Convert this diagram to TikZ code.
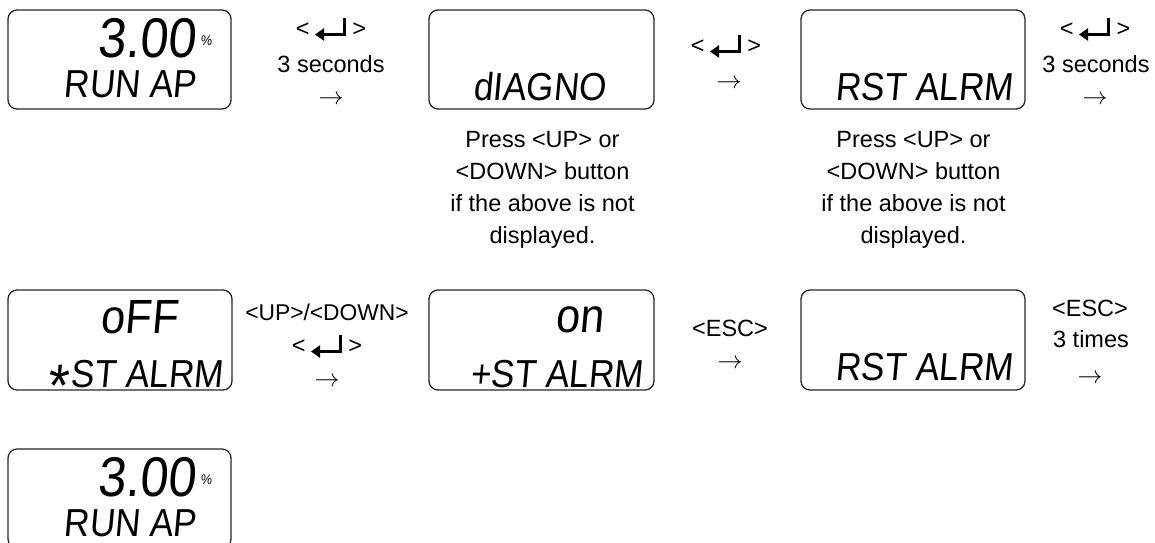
\documentclass[tikz,border=0pt]{standalone}
\usepackage{fontspec}
\setmainfont{Liberation Sans}
\newfontfamily\lcdfont[FakeSlant=0.09,FakeStretch=0.9]{Liberation Sans}
\tikzset{
  lcdbox/.style={draw=black!85, line width=1.3pt, rounded corners=9pt, inner sep=0pt},
  lcdline/.style={inner sep=0pt, anchor=base, font=\lcdfont\fontsize{39}{39}\selectfont},
  lcdmid/.style={inner sep=0pt, anchor=base, font=\lcdfont\fontsize{48}{48}\selectfont},
  lcdbig/.style={inner sep=0pt, anchor=base, font=\lcdfont\fontsize{56}{56}\selectfont},
  lcdpct/.style={inner sep=0pt, anchor=base west, font=\lcdfont\fontsize{14}{14}\selectfont},
  lbl/.style={inner sep=0pt, anchor=base, font=\fontsize{23.5}{28}\selectfont},
  note/.style={inner sep=0pt, anchor=north, align=center, font=\fontsize{23.5}{31.8}\selectfont},
  enterkey/.pic={
    \draw[line width=3.4pt] (13.5,-18) -- (13.5,-1.5) -- (-8,-1.5);
    \fill (-16,-1.5) -- (-7,-7.8) -- (-7,4.8) -- cycle;
  }
}
\begin{document}
\begin{tikzpicture}[x=1pt,y=-1pt]
\useasboundingbox (0,0) rectangle (1155,542);
\clip (0,0) rectangle (1155,542);
\fill[white] (0,0) rectangle (1155,542);

% ---------- row 1 ----------
\node[lcdbox, minimum width=223pt, minimum height=99pt] (b1) at (119.5,59.5) {};
\node[lcdbig] (b1t) at (146.5,57) {3.00};
\node[lcdpct] (b1p) at (200.5,45) {\%};
\node[lcdline] (b1b) at (130,97) {RUN AP};

\node[lcdbox, minimum width=225pt, minimum height=99pt] (b2) at (541.5,59.5) {};
\node[lcdline] (b2b) at (539.5,100) {dIAGNO};

\node[lcdbox, minimum width=224pt, minimum height=99pt] (b3) at (913,59.5) {};
\node[lcdline] (b3b) at (924,100) {RST ALRM};

\node[lbl] (k1) at (331,36) {<\hspace{43pt}>};
\pic at (k1.base) {enterkey};
\node[lbl] (s1) at (331,72) {3 seconds};
\node[lbl] (a1) at (331,104) {$\rightarrow$};

\node[lbl] (k2) at (726,53) {<\hspace{43pt}>};
\pic at (k2.base) {enterkey};
\node[lbl] (a2) at (729,88) {$\rightarrow$};

\node[lbl] (k3) at (1095,36) {<\hspace{43pt}>};
\pic at (k3.base) {enterkey};
\node[lbl] (s3) at (1096,72) {3 seconds};
\node[lbl] (a3) at (1095,104) {$\rightarrow$};

\node[note] (n2) at (542.5,131.5) {Press <UP> or\\<DOWN> button\\if the above is not\\displayed.};
\node[note] (n3) at (913.5,131.5) {Press <UP> or\\<DOWN> button\\if the above is not\\displayed.};

% ---------- row 2 ----------
\node[lcdbox, minimum width=224pt, minimum height=100pt] (b4) at (120,340) {};
\node[lcdmid] (b4t) at (139,333) {oFF};
\node[lcdline] (b4b) at (135,387) {\raisebox{-19pt}{\fontsize{60}{60}\selectfont *}\kern3pt ST ALRM};

\node[lcdbox, minimum width=225pt, minimum height=100pt] (b5) at (541.5,340) {};
\node[lcdmid] (b5t) at (579.5,332) {on};
\node[lcdline] (b5b) at (556.5,387) {+ST ALRM};

\node[lcdbox, minimum width=224pt, minimum height=100pt] (b6) at (913,340) {};
\node[lcdline] (b6b) at (924,380) {RST ALRM};

\node[lbl, font=\fontsize{22.8}{28}\selectfont] (u4) at (327,320) {<UP>/<DOWN>};
\node[lbl] (k4) at (327,353) {<\hspace{43pt}>};
\pic at (k4.base) {enterkey};
\node[lbl] (a4) at (327,386) {$\rightarrow$};

\node[lbl] (e5) at (730,336) {<ESC>};
\node[lbl] (a5) at (730,368) {$\rightarrow$};

\node[lbl] (e6) at (1090,316) {<ESC>};
\node[lbl] (t6) at (1091,347) {3 times};
\node[lbl] (a6) at (1090,383) {$\rightarrow$};

% ---------- row 3 ----------
\node[lcdbox, minimum width=223pt, minimum height=99pt] (b7) at (119.5,498.5) {};
\node[lcdbig] (b7t) at (146.5,496) {3.00};
\node[lcdpct] (b7p) at (200.5,484) {\%};
\node[lcdline] (b7b) at (130,536) {RUN AP};
\end{tikzpicture}
\end{document}
